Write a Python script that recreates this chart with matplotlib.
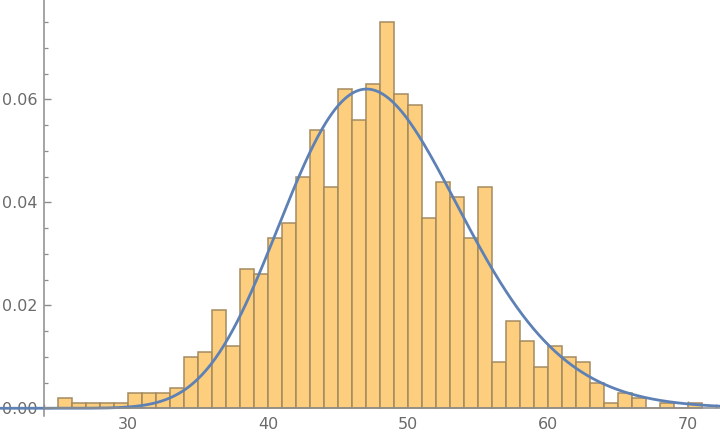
import numpy as np
import matplotlib
matplotlib.use("Agg")
import matplotlib.pyplot as plt
from matplotlib.ticker import MultipleLocator, FixedLocator

# Histogram data (bin left edges, width 1) and densities
bin_edges_left = list(range(25, 71))
densities = [0.002, 0.001, 0.001, 0.001, 0.001,
             0.003, 0.003, 0.003, 0.004, 0.010,
             0.011, 0.019, 0.012, 0.027, 0.026,
             0.033, 0.036, 0.045, 0.054, 0.043,
             0.062, 0.056, 0.063, 0.075, 0.061,
             0.059, 0.037, 0.044, 0.041, 0.033,
             0.043, 0.009, 0.017, 0.013, 0.008,
             0.012, 0.010, 0.009, 0.005, 0.001,
             0.003, 0.002, 0.000, 0.001, 0.000,
             0.001]

# Overlaid density curve: log-normal distribution parameters
log_mu = 3.8696
log_sigma = 0.1355

x_ticks = [30, 40, 50, 60, 70]
y_ticks = [0.00, 0.02, 0.04, 0.06]
y_ticklabels = ["0.00", "0.02", "0.04", "0.06"]

fig = plt.figure(figsize=(7.2, 4.42), dpi=100)
ax = fig.add_axes([44/720, 26/442, 676/720, 416/442])

bar_color = "#FCCE7E"
edge_color = "#A38B60"
curve_color = "#5E81B5"
axis_color = "#8C8C8C"
label_color = "#6A6A6A"

ax.bar(bin_edges_left, densities, width=1.0, align="edge",
       color=bar_color, edgecolor=edge_color, linewidth=1.1, zorder=2)

xs = np.linspace(19, 74, 700)
ys = np.exp(-(np.log(xs) - log_mu) ** 2 / (2 * log_sigma ** 2)) / (xs * log_sigma * np.sqrt(2 * np.pi))
ax.plot(xs, ys, color=curve_color, lw=2.0, zorder=3, clip_on=False)

ax.set_xlim(24, 72.3)
ax.set_ylim(-0.0015, 0.0793)

for s in ["top", "right"]:
    ax.spines[s].set_visible(False)
ax.spines["bottom"].set_position(("data", 0))
ax.spines["left"].set_color(axis_color)
ax.spines["bottom"].set_color(axis_color)
ax.spines["left"].set_linewidth(1.1)
ax.spines["bottom"].set_linewidth(1.1)
ax.spines["bottom"].set_zorder(4)

ax.xaxis.set_major_locator(FixedLocator(x_ticks))
ax.xaxis.set_minor_locator(MultipleLocator(2))
ax.set_yticks(y_ticks)
ax.set_yticklabels(y_ticklabels)
ax.yaxis.set_minor_locator(MultipleLocator(0.005))

ax.tick_params(axis="both", which="both", direction="in", colors=axis_color,
               labelcolor=label_color, labelsize=11.5)
ax.tick_params(axis="both", which="major", length=5, width=1.0)
ax.tick_params(axis="both", which="minor", length=3, width=0.9)
ax.tick_params(axis="x", which="major", pad=6)
ax.tick_params(axis="y", which="major", pad=5)

fig.savefig("out.png", dpi=100)
